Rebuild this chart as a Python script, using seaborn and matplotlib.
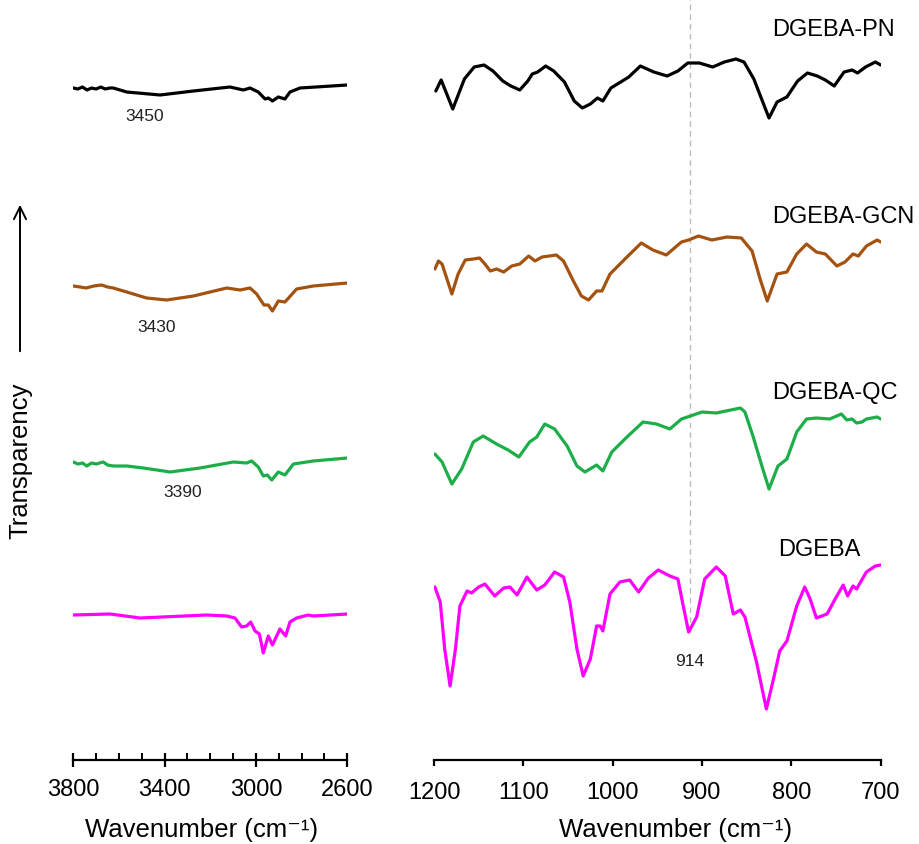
import numpy as np
import pandas as pd
import matplotlib
matplotlib.use("Agg")
import matplotlib.pyplot as plt
from matplotlib.ticker import MultipleLocator, FixedLocator
import seaborn as sns

# ---------------- data (transmittance, a.u., spectra stacked) ----------------
samples = ["DGEBA-PN", "DGEBA-GCN", "DGEBA-QC", "DGEBA"]
colors = ["#000000", "#A4520F", "#1DAE4A", "#FF00FF"]

# high-wavenumber region (3800-2600 cm-1)
pn_hi_wn = [3800, 3780, 3760, 3740, 3720, 3700, 3680, 3660, 3640, 3625, 3566, 3420, 3274, 3114,
            3055, 3026, 2990, 2960, 2946, 2928, 2902, 2873, 2851, 2807, 2600]
pn_hi_t = [6.72, 6.71, 6.73, 6.70, 6.72, 6.71, 6.73, 6.71, 6.72, 6.72, 6.68, 6.65, 6.69, 6.73,
           6.70, 6.72, 6.68, 6.61, 6.62, 6.59, 6.63, 6.61, 6.68, 6.72, 6.75]

gcn_hi_wn = [3800, 3770, 3744, 3710, 3676, 3650, 3625, 3566, 3479, 3391, 3274, 3128, 3070,
             3026, 2997, 2965, 2946, 2928, 2902, 2873, 2822, 2749, 2600]
gcn_hi_t = [4.74, 4.73, 4.72, 4.74, 4.75, 4.73, 4.72, 4.68, 4.62, 4.60, 4.64, 4.72, 4.70,
            4.72, 4.66, 4.55, 4.55, 4.49, 4.59, 4.58, 4.71, 4.74, 4.77]

qc_hi_wn = [3800, 3780, 3760, 3741, 3720, 3700, 3669, 3650, 3625, 3566, 3493, 3376, 3245,
            3099, 3041, 3019, 2990, 2968, 2950, 2931, 2902, 2873, 2836, 2749, 2600]
qc_hi_t = [2.98, 2.96, 2.97, 2.94, 2.97, 2.96, 2.98, 2.95, 2.94, 2.94, 2.92, 2.88, 2.92,
           2.98, 2.97, 2.99, 2.93, 2.84, 2.85, 2.80, 2.88, 2.85, 2.96, 2.99, 3.02]

dg_hi_wn = [3800, 3639, 3508, 3216, 3128, 3092, 3063, 3041, 3023, 3004, 2985, 2968, 2946,
            2928, 2895, 2870, 2851, 2822, 2771, 2749, 2600]
dg_hi_t = [1.45, 1.46, 1.42, 1.45, 1.44, 1.42, 1.33, 1.34, 1.38, 1.29, 1.26, 1.07, 1.24,
           1.15, 1.31, 1.24, 1.38, 1.42, 1.45, 1.44, 1.46]

# fingerprint region (1200-700 cm-1)
pn_lo_wn = [1198, 1192, 1179, 1166, 1155, 1144, 1134, 1123, 1114, 1104, 1095, 1090, 1084, 1075,
            1066, 1054, 1043, 1034, 1025, 1017, 1011, 1002, 991, 982, 969, 954, 939, 927, 916,
            903, 888, 875, 862, 853, 842, 832, 825, 816, 805, 793, 782, 771, 762, 752, 741,
            732, 726, 717, 706, 700]
pn_lo_t = [6.69, 6.80, 6.51, 6.81, 6.93, 6.95, 6.89, 6.79, 6.74, 6.70, 6.79, 6.86, 6.88, 6.94,
           6.89, 6.78, 6.59, 6.52, 6.56, 6.62, 6.59, 6.72, 6.78, 6.83, 6.94, 6.88, 6.84, 6.89,
           6.97, 6.97, 6.93, 6.98, 7.01, 6.98, 6.81, 6.58, 6.42, 6.58, 6.63, 6.79, 6.87, 6.84,
           6.80, 6.74, 6.88, 6.90, 6.87, 6.93, 6.98, 6.95]

gcn_lo_wn = [1199, 1195, 1191, 1180, 1173, 1165, 1156, 1149, 1143, 1137, 1130, 1122, 1113, 1104,
             1094, 1087, 1079, 1063, 1055, 1044, 1035, 1027, 1018, 1012, 1003, 984, 968, 955,
             940, 923, 915, 904, 889, 872, 856, 844, 835, 827, 816, 805, 794, 783, 772, 762,
             749, 740, 731, 725, 716, 704, 700]
gcn_lo_t = [4.91, 4.99, 4.96, 4.66, 4.86, 5.00, 5.01, 5.02, 4.96, 4.89, 4.91, 4.88, 4.94, 4.96,
            5.04, 4.99, 5.03, 5.05, 4.99, 4.79, 4.64, 4.60, 4.69, 4.69, 4.86, 5.03, 5.17, 5.10,
            5.05, 5.18, 5.20, 5.24, 5.20, 5.23, 5.22, 5.09, 4.81, 4.59, 4.86, 4.88, 5.06, 5.16,
            5.08, 5.06, 4.94, 4.98, 5.06, 5.04, 5.14, 5.20, 5.18]

qc_lo_wn = [1199, 1191, 1180, 1169, 1156, 1145, 1130, 1117, 1105, 1093, 1085, 1076, 1065, 1051,
            1040, 1031, 1018, 1011, 1001, 984, 966, 951, 936, 923, 913, 900, 884, 857, 852,
            843, 833, 825, 815, 805, 794, 783, 772, 757, 744, 738, 732, 727, 721, 716, 704, 700]
qc_lo_t = [3.06, 2.98, 2.76, 2.91, 3.18, 3.24, 3.16, 3.10, 3.03, 3.18, 3.23, 3.36, 3.31, 3.14,
           2.94, 2.88, 2.95, 2.89, 3.08, 3.23, 3.38, 3.36, 3.31, 3.41, 3.44, 3.48, 3.47, 3.52,
           3.48, 3.24, 2.94, 2.71, 2.94, 3.01, 3.28, 3.41, 3.42, 3.41, 3.46, 3.40, 3.41, 3.37,
           3.38, 3.41, 3.43, 3.41]

dg_lo_wn = [1199, 1193, 1188, 1182, 1176, 1171, 1163, 1158, 1150, 1143, 1132, 1122, 1115, 1107,
            1096, 1085, 1076, 1065, 1055, 1048, 1040, 1033, 1025, 1018, 1014, 1011, 1003, 992,
            981, 971, 960, 949, 936, 927, 921, 915, 906, 897, 884, 874, 865, 857, 852, 839,
            828, 820, 813, 805, 794, 785, 779, 772, 760, 751, 742, 737, 731, 727, 716, 706, 700]
dg_lo_t = [1.73, 1.58, 1.11, 0.74, 1.11, 1.54, 1.69, 1.67, 1.73, 1.76, 1.64, 1.72, 1.73, 1.65,
           1.83, 1.70, 1.75, 1.88, 1.83, 1.58, 1.11, 0.84, 1.01, 1.34, 1.34, 1.29, 1.66, 1.78,
           1.80, 1.68, 1.82, 1.90, 1.84, 1.81, 1.54, 1.28, 1.43, 1.81, 1.93, 1.84, 1.46, 1.50,
           1.43, 0.98, 0.51, 0.81, 1.09, 1.19, 1.54, 1.73, 1.61, 1.42, 1.46, 1.61, 1.75, 1.64,
           1.74, 1.71, 1.88, 1.94, 1.95]

peak_hi_labels = ["3450", "3430", "3390"]
peak_hi_pos = [(3486, 6.44), (3433, 4.33), (3322, 2.68)]
peak_lo_label = "914"
peak_lo_pos = (914, 0.99)
label_t = [7.31, 5.44, 3.68, 2.11]

hi_ticks = [3800, 3400, 3000, 2600]
lo_ticks = [1200, 1100, 1000, 900, 800, 700]

# ---------------- build tables ----------------
def long_df(wns, ts):
    frames = []
    for s, w, t in zip(samples, wns, ts):
        frames.append(pd.DataFrame({"wn": w, "T": t, "sample": s}))
    return pd.concat(frames, ignore_index=True)

df_hi = long_df([pn_hi_wn, gcn_hi_wn, qc_hi_wn, dg_hi_wn], [pn_hi_t, gcn_hi_t, qc_hi_t, dg_hi_t])
df_lo = long_df([pn_lo_wn, gcn_lo_wn, qc_lo_wn, dg_lo_wn], [pn_lo_t, gcn_lo_t, qc_lo_t, dg_lo_t])
palette = dict(zip(samples, colors))

# ---------------- figure ----------------
sns.set_theme(style="white")
plt.rcParams["font.family"] = ["Liberation Sans", "DejaVu Sans"]
plt.rcParams["text.color"] = "black"
plt.rcParams["axes.labelcolor"] = "black"
plt.rcParams["xtick.color"] = "black"
plt.rcParams["xtick.labelcolor"] = "black"

W, H = 920, 845
fig = plt.figure(figsize=(W / 100, H / 100), dpi=100)
bottom = (H - 761) / H
height = 761 / H
ax1 = fig.add_axes([73.3 / W, bottom, 274 / W, height])
ax2 = fig.add_axes([434 / W, bottom, 446.7 / W, height])

for ax, df in ((ax1, df_hi), (ax2, df_lo)):
    sns.lineplot(data=df, x="wn", y="T", hue="sample", palette=palette, sort=False,
                 estimator=None, legend=False, linewidth=2.3, ax=ax)
    ax.set_ylim(0, 7.61)
    ax.set_yticks([])
    ax.set_ylabel("")
    ax.set_xlabel("")
    for sp in ("left", "top", "right"):
        ax.spines[sp].set_visible(False)
    ax.spines["bottom"].set_linewidth(1.6)
    ax.spines["bottom"].set_color("black")
    ax.patch.set_alpha(0)

for line in ax1.lines + ax2.lines:
    line.set_solid_joinstyle("round")
    line.set_solid_capstyle("round")

ax1.set_xlim(3800, 2600)
ax1.xaxis.set_major_locator(FixedLocator(hi_ticks))
ax1.xaxis.set_minor_locator(MultipleLocator(100))
ax1.tick_params(axis="x", which="major", direction="inout", length=9.5, width=1.6,
                labelsize=17, pad=8.5, bottom=True, color="black")
ax1.tick_params(axis="x", which="minor", direction="in", length=5, width=1.4,
                bottom=True, color="black")

ax2.set_xlim(1200, 700)
ax2.xaxis.set_major_locator(FixedLocator(lo_ticks))
ax2.tick_params(axis="x", which="major", direction="out", length=4.5, width=1.6,
                labelsize=17, pad=10.5, bottom=True, color="black")

# axis titles
fig.text(202 / W, 1 - 830 / H, "Wavenumber (cm⁻¹)", fontsize=18.5, ha="center", va="center")
fig.text(676 / W, 1 - 830 / H, "Wavenumber (cm⁻¹)", fontsize=18.5, ha="center", va="center")

# reference line at 914
ax2.plot([914, 914], [1.28, 7.61], color="#BDBDBD", lw=1.0, dashes=(4, 3), zorder=0,
         clip_on=False)

# peak annotations
for lab, (x, y) in zip(peak_hi_labels, peak_hi_pos):
    ax1.text(x, y, lab, fontsize=12.5, ha="center", va="center", color="#222222")
ax2.text(peak_lo_pos[0], peak_lo_pos[1], peak_lo_label, fontsize=12.5, ha="center",
         va="center", color="#222222")

# sample labels
for s, y in zip(samples, label_t):
    ax2.text(821.7 if s != "DGEBA" else 815, y, s, fontsize=17, ha="left", va="center",
             clip_on=False, color="black")

# y label with arrow
fig.text(20 / W, 1 - 461 / H, "Transparency", rotation=90, fontsize=18.5,
         ha="center", va="center")
fig.add_artist(matplotlib.patches.FancyArrowPatch((20 / W, 1 - 355 / H), (20 / W, 1 - 203 / H),
               transform=fig.transFigure, arrowstyle="->", mutation_scale=22, lw=1.4,
               color="black"))

fig.savefig("out.png", dpi=100)
